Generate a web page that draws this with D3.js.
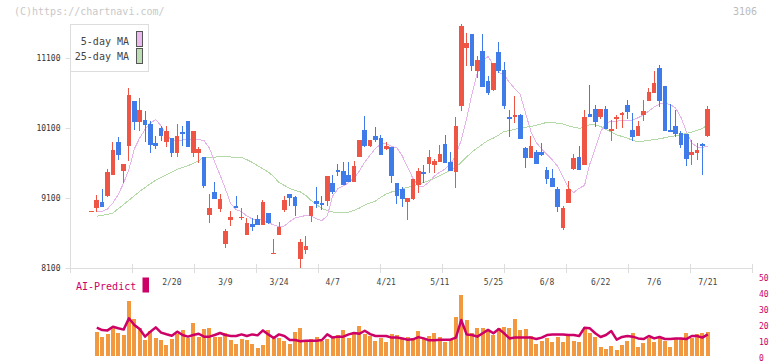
<!DOCTYPE html>
<html>
<head>
<meta charset="utf-8">
<script src="https://cdn.jsdelivr.net/npm/d3@7/dist/d3.min.js"></script>
<style>
  body { margin: 0; background: #fff; }
  text { font-family: "DejaVu Sans Mono", monospace; }
</style>
</head>
<body>
<script>
// daily candles (index 0 .. 115)
const open = [8910,8960,9040,9130,9430,9900,9490,9850,10490,10190,10210,10160,9880,10100,9900,9960,9750,10040,10200,9750,
  9750,9690,8860,9190,8950,8440,8780,8990,8810,8570,8730,8800,8710,8890,8300,8570,8930,9160,9110,8230,
  8360,8840,9060,9030,9060,9310,9500,9490,9430,9330,9690,10070,9840,9990,9960,9800,9830,9310,9230,9040,
  9090,9290,9470,9590,9570,9610,9870,9610,9470,10410,11240,11440,10910,11200,10770,10640,11190,10930,10260,10260,
  10290,9810,9670,9760,9760,9500,9390,9230,8670,9030,9510,9690,9570,10300,10370,10260,10370,10060,10230,10290,
  10430,10070,9990,10290,10490,10600,10960,10700,10070,10130,10030,10010,9710,9740,9870,9990];
const high = [8920,9140,9230,9520,9900,9970,9590,10670,10490,10530,10340,10200,9990,10130,10130,9960,10160,10130,10200,10060,
  9830,9690,9160,9330,9160,8660,8910,9130,8960,8810,8820,8860,9070,8890,8510,8760,9130,9160,9130,8510,
  8560,8990,9260,9130,9410,9430,9590,9610,9610,9630,9930,10270,9930,10110,10000,9900,9830,9310,9260,9100,
  9370,9530,9570,9790,9660,9860,10000,9760,10260,11590,11460,11440,11130,11440,10840,11030,11330,11040,10360,10560,
  10300,9830,9990,9790,9890,9540,9510,9260,8990,9340,9730,9840,10360,10710,10430,10370,10410,10210,10290,10330,
  10500,10310,10200,10500,10670,10910,11000,10700,10440,10360,10060,10010,9930,9890,9890,10410];
const low = [8900,8900,8970,9120,9430,9640,9320,9630,10070,10060,9900,9750,9800,9910,9830,9680,9690,9850,9830,9690,
  9600,9250,8750,9080,8900,8380,8700,8960,8790,8570,8630,8710,8710,8730,8300,8570,8900,8990,8840,8100,
  8300,8760,8960,8930,8980,9160,9410,9290,9330,9330,9690,9830,9830,9900,9710,9790,9310,9010,8970,8790,
  9070,9170,9310,9460,9460,9610,9600,9490,9240,10340,10990,10910,10810,10690,10570,10630,10890,10370,9970,10170,
  9940,9530,9670,9590,9700,9300,9260,8900,8640,9030,9500,9500,9570,10260,10110,10230,10090,9910,10090,10100,
  10230,9910,9990,10200,10490,10600,10400,10060,10040,9970,9810,9560,9570,9640,9430,9970];
const close = [8910,9070,8970,9470,9790,9720,9590,10570,10180,10360,10150,9860,9850,9980,10060,9750,9990,10020,9830,10060,
  9800,9270,8960,9090,9090,8630,8830,8960,8830,8740,8680,8710,9040,8750,8310,8690,9070,9100,8980,8470,
  8420,8990,9020,9000,9410,9190,9470,9290,9330,9560,9930,9840,9930,9930,9710,9840,9410,9130,9090,9100,
  9370,9490,9440,9690,9630,9730,9600,9490,10130,11560,11310,10990,11070,10690,10600,11030,10920,10410,10230,10290,
  9940,9670,9840,9590,9710,9370,9260,8970,8960,9230,9670,9500,10260,10260,10190,10370,10090,10090,10260,10310,
  10330,9970,10130,10340,10610,10740,10490,10060,10040,10010,9860,9660,9760,9790,9840,10370];

// moving averages as drawn (first day has none)
const ma5 = [null,8914,8907,8943,9029,9150,9314,9507,9800,9957,10079,10171,10221,10129,9993,9929,9907,9929,9939,9939,
  9936,9921,9814,9614,9429,9229,9014,8936,8904,8843,8800,8786,8786,8750,8714,8693,8700,8764,8814,8833,
  8850,8843,8800,8779,8843,9129,9233,9271,9321,9386,9486,9614,9714,9807,9871,9879,9840,9814,9700,9536,
  9379,9271,9271,9329,9414,9471,9514,9586,9714,9929,10229,10586,10886,11057,11121,11000,10896,10857,10750,10661,
  10579,10314,10050,9893,9800,9719,9643,9550,9400,9250,9179,9239,9279,9586,9814,10043,10179,10190,10197,10214,
  10214,10214,10246,10286,10343,10400,10443,10453,10436,10386,10250,10050,9886,9829,9824,9843];
const ma25 = [null,8839,8853,8867,8886,8947,9007,9069,9133,9193,9250,9303,9354,9396,9434,9471,9510,9536,9561,9596,
  9633,9681,9681,9683,9693,9697,9686,9681,9681,9647,9610,9561,9517,9471,9407,9319,9280,9236,9206,9186,
  9136,9064,9007,8950,8921,8900,8893,8891,8900,8923,8957,9000,9029,9057,9111,9157,9186,9204,9231,9253,
  9273,9297,9324,9350,9381,9421,9461,9493,9543,9607,9686,9757,9814,9871,9921,9957,10000,10050,10064,10079,
  10103,10111,10121,10139,10160,10181,10179,10167,10157,10129,10110,10097,10107,10153,10143,10121,10079,10043,10003,9979,
  9957,9921,9904,9914,9924,9936,9946,9961,9979,9989,10006,10021,10043,10064,10096,10143];

// AI-Predict panel (no value for the first day)
const aiBars = [null,15,12,13.8,17.7,14.6,13.1,34.4,23.3,17.3,10,15.6,11.5,10,6.9,10.6,14,16.3,11,20.8,
  12,17.1,17.7,12,12,14.2,10,7.7,10.6,10,7.7,5.2,6.9,16.5,12.5,11.5,9.6,7.7,15.2,17.3,
  9.4,10.6,12,9.4,10.6,11,12.9,16.3,11.5,15.2,18.8,13.8,12.5,9.4,11.5,9,13.8,13.1,10.6,12,
  11,15.4,11.5,12.5,14.4,12,9,10.6,24.4,38.1,22.5,14.2,17.7,17.7,16.3,13.1,17.7,18.1,17.7,23.1,
  16.3,16.9,12.5,7.5,9.4,11,8.8,11.9,8.8,12.5,9.4,8.8,18.3,14.4,12,5.6,4.6,6.3,3.8,6.9,
  9.4,14.4,5.6,8.1,11.5,9,11.5,9.4,5.6,10.6,10.6,14.4,11.5,13.8,14.4,15];
const aiLine = [null,17.7,16.2,16,18.3,17.3,16.5,23.5,19.4,16.9,12.1,15.2,17.9,14.6,13.6,12.7,15.2,13.1,12.1,13.1,
  13.9,12.1,12.1,13.1,14.4,13.1,12.5,12.5,13.5,12.5,13.5,12.9,16,13.5,11.3,13.5,12.5,10,10,9.2,
  9.6,9.6,9.6,10,13.5,11.5,12.1,12.1,13.5,14.4,13.9,15.8,13.7,12.5,12.5,12.5,11.5,11.5,11,10.2,
  10.4,11.8,11,9.8,9.8,10.2,10.2,10.2,11.5,22.5,13.5,13.1,12.1,14.2,16.3,14.2,16.9,14.2,11,11.5,
  11.5,11.5,11.5,10.6,11.5,13.1,13.5,13.5,13.5,13.1,13.1,12.5,17.7,17.3,14.2,11.9,13.1,15.6,10.2,11.9,
  12.5,12.1,11,10.6,12.5,11,11.9,10.6,10.6,11,11,10.6,12.5,12.5,11.5,13.5];

const dateLabels = ["2/20","3/9","3/24","4/7","4/21","5/11","5/25","6/8","6/22","7/6","7/21"];
const dateIdx = [15,25,35,45,55,65,75,85,95,105,115];
const priceTicks = [8100,9100,10100,11100];
const aiTicks = [0,10,20,30,40,50];

const W = 772, H = 361;
const upColor = "#ef5544", downColor = "#3f7be9";

const svg = d3.select("body").append("svg")
  .attr("width", W).attr("height", H);

const x = d3.scaleLinear().domain([-4, 123.25]).range([70, 752]);
const y = d3.scaleLinear().domain([8100, 11100]).range([268, 58]);
const yAi = d3.scaleLinear().domain([0, 50]).range([356, 276]);
const grid = d3.scaleLinear().domain([0, 11]).range([70, 752]);

// header texts
svg.append("text").attr("x", 14).attr("y", 15).attr("font-size", 10)
  .attr("fill", "#c8c8c8").text("(C)https://chartnavi.com/");
svg.append("text").attr("x", 757).attr("y", 15).attr("font-size", 10)
  .attr("text-anchor", "end").attr("fill", "#bbb").text("3106");

// frame lines
svg.append("line").attr("x1", 70.5).attr("x2", 70.5).attr("y1", 24).attr("y2", 268.5)
  .attr("stroke", "#ddd");
svg.append("line").attr("x1", 70).attr("x2", 752).attr("y1", 268.5).attr("y2", 268.5)
  .attr("stroke", "#ddd");
svg.append("g").selectAll("line").data(grid.ticks(11)).join("line")
  .attr("x1", d => Math.round(grid(d)) + 0.5).attr("x2", d => Math.round(grid(d)) + 0.5)
  .attr("y1", 264).attr("y2", 273).attr("stroke", "#ddd");

// price axis
const yAxis = svg.append("g").attr("transform", "translate(70.5,0)")
  .call(d3.axisLeft(y).tickValues(priceTicks).tickSize(5).tickPadding(5).tickFormat(d3.format("d")));
yAxis.select(".domain").remove();
yAxis.selectAll("line").attr("stroke", "#ddd");
yAxis.selectAll("text").attr("font-size", 8).attr("fill", "#333")
  .attr("font-family", "DejaVu Sans Mono, monospace");

// moving averages (aliased like the original)
const maLine = d3.line().defined(d => d !== null).x((d, i) => x(i)).y(d => y(d));
svg.append("path").datum(ma25).attr("d", maLine)
  .attr("fill", "none").attr("stroke", "#b3d9a6").attr("stroke-width", 1)
  .attr("shape-rendering", "crispEdges");
svg.append("path").datum(ma5).attr("d", maLine)
  .attr("fill", "none").attr("stroke", "#e6b3ea").attr("stroke-width", 1)
  .attr("shape-rendering", "crispEdges");

// candles
const candles = svg.append("g").attr("shape-rendering", "crispEdges")
  .selectAll("g").data(open).join("g");
const colorOf = i => close[i] >= open[i] ? upColor : downColor;
candles.append("line")
  .attr("x1", (d, i) => x(i)).attr("x2", (d, i) => x(i))
  .attr("y1", (d, i) => y(high[i])).attr("y2", (d, i) => y(low[i]))
  .attr("stroke", (d, i) => colorOf(i)).attr("stroke-width", 1);
candles.append("rect")
  .attr("x", (d, i) => x(i) - 2.3).attr("width", 4.6)
  .attr("y", (d, i) => y(Math.max(open[i], close[i])))
  .attr("height", (d, i) => Math.max(1, Math.abs(y(open[i]) - y(close[i]))))
  .attr("fill", (d, i) => colorOf(i));

// legend
const legend = svg.append("g");
legend.append("rect").attr("x", 70.5).attr("y", 24.5).attr("width", 78).attr("height", 47)
  .attr("fill", "#fff").attr("stroke", "#ddd");
legend.append("text").attr("x", 129).attr("y", 45).attr("font-size", 10).attr("text-anchor", "end")
  .attr("fill", "#444").text("5-day MA");
legend.append("text").attr("x", 129).attr("y", 60).attr("font-size", 10).attr("text-anchor", "end")
  .attr("fill", "#444").text("25-day MA");
legend.append("rect").attr("x", 136.5).attr("y", 31.5).attr("width", 6).attr("height", 15)
  .attr("fill", "#ebb9ee").attr("stroke", "#555");
legend.append("rect").attr("x", 136.5).attr("y", 48.5).attr("width", 6).attr("height", 15)
  .attr("fill", "#bcdeb2").attr("stroke", "#555");

// date labels
svg.append("g").selectAll("text").data(dateLabels).join("text")
  .attr("x", (d, i) => x(dateIdx[i])).attr("y", 285)
  .attr("text-anchor", "middle").attr("font-size", 8).attr("fill", "#444").text(d => d);

// AI-Predict label
svg.append("text").attr("x", 76).attr("y", 290).attr("font-size", 10)
  .attr("fill", "#cc0066").text("AI-Predict");
svg.append("rect").attr("x", 142.5).attr("y", 277.5).attr("width", 6.5).attr("height", 15)
  .attr("fill", "#cc0066");

// AI-Predict axis on the right
svg.append("g").selectAll("text").data(aiTicks).join("text")
  .attr("x", 759).attr("y", d => yAi(d) + 4.5).attr("font-size", 8)
  .attr("fill", "#cc0066").text(d => d);

// AI-Predict bars and line
const barData = aiBars.map((v, i) => ({ i: i, v: v })).filter(d => d.v !== null);
svg.append("g").attr("shape-rendering", "crispEdges")
  .selectAll("rect").data(barData).join("rect")
  .attr("x", d => x(d.i) - 2).attr("width", 4)
  .attr("y", d => yAi(d.v)).attr("height", d => yAi(0) - yAi(d.v))
  .attr("fill", "#f2993f");

const aiPath = d3.line().defined(d => d !== null).x((d, i) => x(i)).y(d => yAi(d));
svg.append("path").datum(aiLine).attr("d", aiPath)
  .attr("fill", "none").attr("stroke", "#cc0066").attr("stroke-width", 2.5)
  .attr("stroke-linejoin", "round");
</script>
</body>
</html>
